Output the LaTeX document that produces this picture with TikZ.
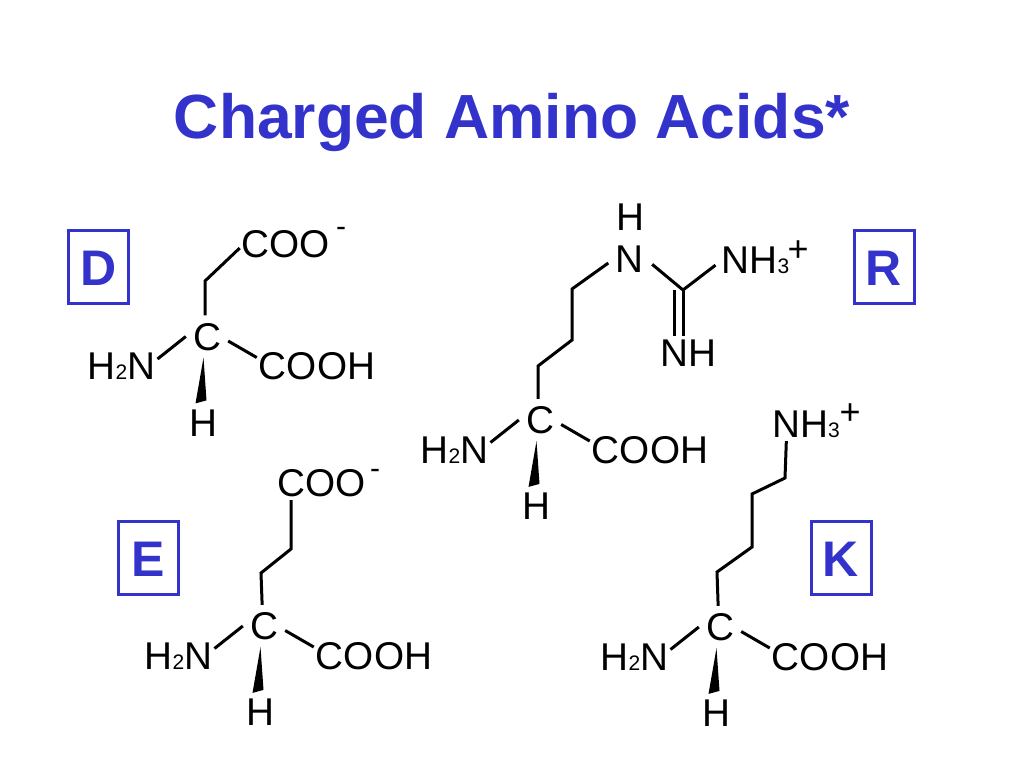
\documentclass[tikz,border=0pt]{standalone}
\usepackage{fontspec}
\setmainfont{Liberation Sans}
\usepackage{xcolor}
\definecolor{titleblue}{RGB}{51,51,204}
\tikzset{
  atom/.style={inner xsep=2pt,inner ysep=3pt,text height=27.8pt,text depth=0pt,font=\fontsize{38.7}{40}\selectfont},
  carbon/.style={atom,inner xsep=7pt,inner ysep=7pt},
  charge/.style={inner sep=0pt,font=\fontsize{#1}{#1}\selectfont},
  bond/.style={line width=3pt},
  letterbox/.style={draw=titleblue,line width=3pt,minimum width=60pt,minimum height=73pt,inner sep=0pt,
    text=titleblue,text height=37pt,text depth=0pt,font=\fontsize{50}{52}\selectfont\bfseries},
}
\newcommand{\subnum}[1]{{\fontsize{21}{21}\selectfont #1}}
% name, x and y of the central carbon
\newcommand{\backbone}[3]{
  \node[carbon] (#1c) at (#2,#3) {C};
  \node[atom] (#1amine) at (#2-85.5,#3+29.5) {H\subnum{2}N};
  \node[atom] (#1cooh) at (#2+110,#3+29.5) {COOH};
  \node[atom] (#1h) at (#2-4,#3+86) {H};
  \draw[bond] (#1c.west) -- (#1amine.11);
  \draw[bond] (#1c.-12) -- (#1cooh.172);
  \fill ([xshift=-3.5pt]#1c.south) -- ([shift={(-7.5,-2)}]#1h.north) -- ([shift={(3.5,-5)}]#1h.north) -- cycle;
}
\begin{document}
\begin{tikzpicture}[x=1pt,y=-1pt]
   \useasboundingbox (0,0) rectangle (1024,768);
   \node[anchor=base,inner sep=0pt,text=titleblue,font=\fontsize{62.4}{64}\selectfont\bfseries] (title) at (512,138) {Charged Amino Acids*};

   \node[letterbox] (boxD) at (98.5,267) {D};
   \node[letterbox] (boxR) at (884,267) {R};
   \node[letterbox] (boxE) at (148.5,558) {E};
   \node[letterbox] (boxK) at (841,558) {K};

   % D
   \backbone{D}{207}{336.5}
   \node[atom] (Dcoo) at (286,244) {COO};
   \node[charge=30] (Dminus) at (341,232) {-};
   \coordinate (Da) at (205,281);
   \draw[bond] (Dc.95) -- (Da) -- (Dcoo.185);

   % E
   \backbone{E}{264}{626}
   \node[atom] (Ecoo) at (322,483) {COO};
   \node[charge=30] (Eminus) at (375,474) {-};
   \coordinate (Ea) at (261,573);
   \coordinate (Eb) at (291,549);
   \draw[bond] (Ec.95) -- (Ea) -- (Eb) -- (Ecoo.209);

   % R
   \backbone{R}{540}{420}
   \node[atom,inner xsep=9pt] (Rn) at (629,259) {N};
   \node[atom] (Rhn) at (630,217) {H};
   \node[atom,inner xsep=6pt] (Rammonium) at (755.5,259.5) {NH\subnum{3}};
   \node[charge=36] (Rplus) at (798,251) {+};
   \node[atom] (Rimine) at (688,353) {NH};
   \coordinate (Ra) at (538,366);
   \coordinate (Rb) at (572,340);
   \coordinate (Rd) at (572,289);
   \coordinate (Rg) at (683,290);
   \draw[bond,shorten >=-3pt] (Rc.95) -- (Ra) -- (Rb) -- (Rd) -- (Rn.194);
   \draw[bond] (Rn.-13) -- (Rg) -- (Rammonium.188);
   \draw[bond] (Rg) -- (Rg |- Rimine.north);
   \draw[bond] ([xshift=-9pt]Rg) -- ([xshift=-9pt]Rg |- Rimine.north);

   % K
   \backbone{K}{720}{627}
   \node[atom] (Kammonium) at (806,424) {NH\subnum{3}};
   \node[charge=36] (Kplus) at (850,414) {+};
   \coordinate (Ka) at (717,572);
   \coordinate (Kb) at (752,547);
   \coordinate (Kd) at (752,494);
   \coordinate (Ke) at (785,478);
   \draw[bond] (Kc.95) -- (Ka) -- (Kb) -- (Kd) -- (Ke) -- (Kammonium.221);
\end{tikzpicture}
\end{document}
